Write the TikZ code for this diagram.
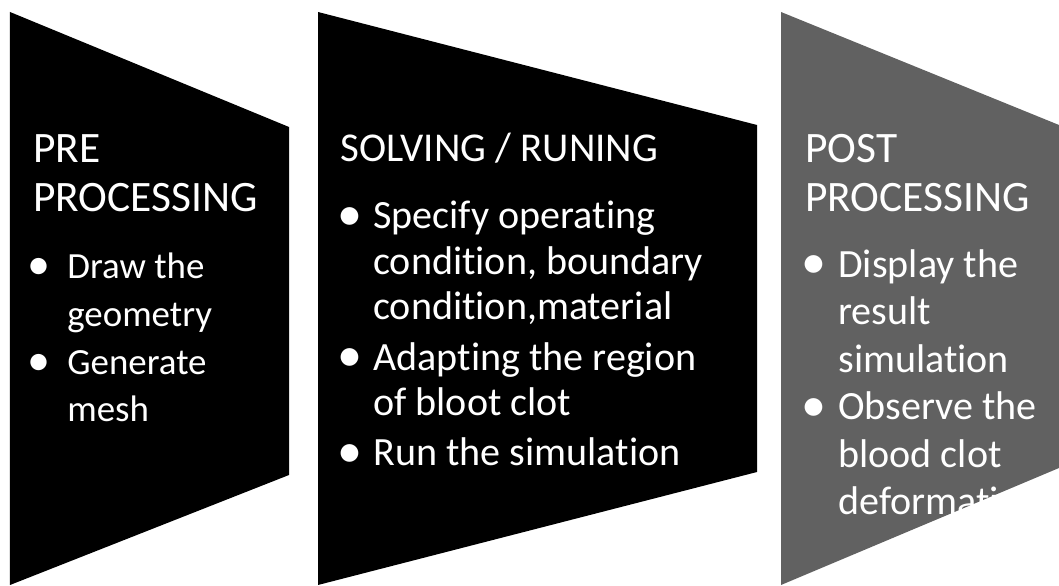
\documentclass[tikz,border=0pt]{standalone}
\usepackage{fontspec}
\setmainfont{Carlito}[Ligatures=NoCommon]
\usepackage{tikz}

\newcommand{\bitem}[1]{\makebox[#1][l]{\hspace*{-0.08em}\raisebox{-0.04em}{\scalebox{1.25}{\textbullet}}}}
\newcommand{\bcont}[1]{\hspace*{#1}}

\begin{document}
\begin{tikzpicture}[
		stagetext/.style={anchor=base west,inner sep=0pt,align=left,text=white},
		bighead/.style={stagetext,font=\fontsize{24.7}{27.9}\selectfont},
	]
			\useasboundingbox(0,0)rectangle(21.18,11.72);
			\fill[black](0.2,11.48)--(5.78,9.18)--(5.78,2.22)--(0.2,0.02)--cycle;
			\fill[black](6.36,11.48)--(15.14,9.22)--(15.14,2.28)--(6.36,0.02)--cycle;
			\fill[black!62](15.62,11.48)--(21.18,9.22)--(21.18,2.36)--(15.62,0.02)--cycle;
			% base anchor sits on the last line
			\node[bighead](prehead) at (0.66,7.48){PRE\\PROCESSING};
			\node[stagetext,font=\fontsize{21}{27.3}\selectfont](prelist) at (0.60,3.28){\bitem{0.74cm}Draw the\\\bcont{0.74cm}geometry\\\bitem{0.74cm}Generate\\\bcont{0.74cm}mesh};
			\node[stagetext,font=\fontsize{23.3}{26}\selectfont](solvehead) at (6.80,8.48){SOLVING / RUNING};
			\node[stagetext,font=\fontsize{22.8}{25.9}\selectfont](solvelist) at (6.80,2.40){\bitem{0.66cm}Specify operating\\\bcont{0.66cm}condition, boundary\\\bcont{0.66cm}condition,material\\[2.8pt]\bitem{0.66cm}Adapting the region\\\bcont{0.66cm}of bloot clot\\[2.8pt]\bitem{0.66cm}Run the simulation};
			\node[bighead](posthead) at (16.10,7.48){POST\\PROCESSING};
			\node[stagetext,font=\fontsize{22.8}{27}\selectfont](postlist) at (16.08,1.43){\bitem{0.68cm}Display the\\\bcont{0.68cm}result\\\bcont{0.68cm}simulation\\\bitem{0.68cm}Observe the\\\bcont{0.68cm}blood clot\\\bcont{0.68cm}deformation};
		\end{tikzpicture}
\end{document}
